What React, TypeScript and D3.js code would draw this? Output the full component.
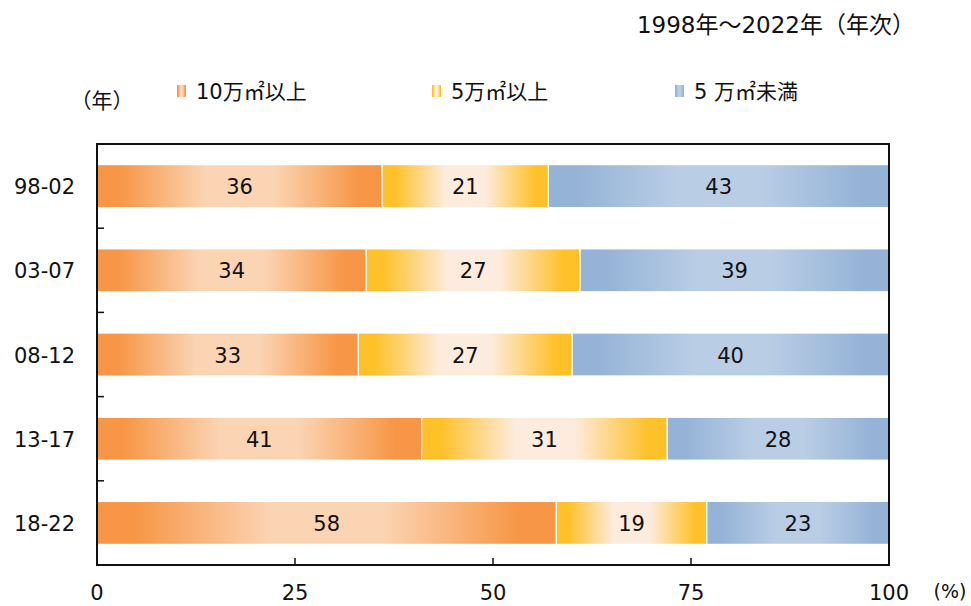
import React from "react";
import * as d3 from "d3";

const categories = ["98-02", "03-07", "08-12", "13-17", "18-22"];
const seriesNames = ["10万㎡以上", "5万㎡以上", "5 万㎡未満"];
const large = [36, 34, 33, 41, 58];
const medium = [21, 27, 27, 31, 19];
const small = [43, 39, 40, 28, 23];
const xTicks = [0, 25, 50, 75, 100];
const title = "1998年～2022年（年次）";
const yUnit = "（年）";
const xUnit = "(%)";

const gradients = [
  { id: "gOrange", edge: "#F79646", mid: "#FBD4B4" },
  { id: "gYellow", edge: "#FFC12A", mid: "#FDEBDD" },
  { id: "gBlue", edge: "#95B3D7", mid: "#B9CDE5" },
];

const FONT = "'DejaVu Sans', 'Noto Sans CJK JP', sans-serif";

export default function App() {
  const W = 971, H = 606;
  const left = 97, right = 889, top = 144, bottom = 565;
  const x = d3.scaleLinear().domain([0, 100]).range([left, right]);
  const y = d3.scaleBand<string>().domain(categories).range([top, bottom]).paddingInner(0.49).paddingOuter(0.245);
  const series = [large, medium, small];
  const stack = categories.map((c, i) => {
    let acc = 0;
    return series.map((s, k) => {
      const x0 = acc;
      acc += s[i];
      return { k, x0, x1: acc, v: s[i], c };
    });
  });
  const step = y.step();
  const legendX = [177, 432, 675];
  return (
    <svg width={W} height={H} style={{ position: "absolute", left: 0, top: 0, background: "#fff" }} fontFamily={FONT}>
      <defs>
        {gradients.map((g) => (
          <linearGradient key={g.id} id={g.id} x1="0" x2="1" y1="0" y2="0">
            <stop offset="0" stopColor={g.edge} />
            <stop offset="0.08" stopColor={g.edge} />
            <stop offset="0.38" stopColor={g.mid} />
            <stop offset="0.62" stopColor={g.mid} />
            <stop offset="0.92" stopColor={g.edge} />
            <stop offset="1" stopColor={g.edge} />
          </linearGradient>
        ))}
      </defs>
      <text x={915} y={33} fontSize={23} textAnchor="end" fill="#111">{title}</text>
      <text x={102} y={108} fontSize={21} textAnchor="middle" fill="#111">{yUnit}</text>
      {seriesNames.map((n, k) => (
        <g key={n}>
          <rect x={legendX[k]} y={85} width={9} height={12} fill={`url(#${gradients[k].id})`} />
          <text x={legendX[k] + 19} y={99} fontSize={21} fill="#111">{n}</text>
        </g>
      ))}
      {stack.map((row) =>
        row.map((seg) => (
          <g key={row[0].c + seg.k}>
            <rect
              x={x(seg.x0)}
              y={y(seg.c)!}
              width={x(seg.x1) - x(seg.x0)}
              height={y.bandwidth()}
              fill={`url(#${gradients[seg.k].id})`}
              stroke="#fff"
              strokeWidth={1.2}
            />
            <text
              x={(x(seg.x0) + x(seg.x1)) / 2}
              y={y(seg.c)! + y.bandwidth() / 2 + 8}
              fontSize={21}
              textAnchor="middle"
              fill="#111"
            >
              {seg.v}
            </text>
          </g>
        ))
      )}
      <rect x={left} y={top} width={right - left} height={bottom - top} fill="none" stroke="#111" strokeWidth={2} />
      {categories.slice(1).map((c) => (
        <line key={c} x1={left} x2={left + 7} y1={y(c)! - (step - y.bandwidth()) / 2} y2={y(c)! - (step - y.bandwidth()) / 2} stroke="#111" strokeWidth={1.5} />
      ))}
      {xTicks.slice(1, -1).map((t) => (
        <line key={t} x1={x(t)} x2={x(t)} y1={bottom} y2={bottom - 7} stroke="#111" strokeWidth={1.5} />
      ))}
      {categories.map((c) => (
        <text key={c} x={75} y={y(c)! + y.bandwidth() / 2 + 8} fontSize={21} textAnchor="end" fill="#111">{c}</text>
      ))}
      {xTicks.map((t) => (
        <text key={t} x={x(t)} y={600} fontSize={21} textAnchor="middle" fill="#111">{t}</text>
      ))}
      <text x={950} y={598} fontSize={19} textAnchor="middle" fill="#111">{xUnit}</text>
    </svg>
  );
}
